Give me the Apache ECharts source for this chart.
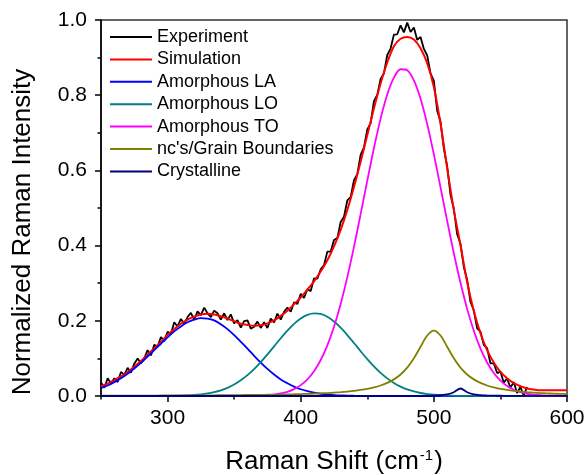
<!DOCTYPE html>
<html>
<head>
<meta charset="utf-8">
<script src="https://cdn.jsdelivr.net/npm/echarts@6/dist/echarts.min.js"></script>
<style>html,body{margin:0;padding:0;background:#fff}#c{width:587px;height:475px}</style>
</head>
<body>
<div id="c"></div>
<script>
const seriesNames = ['Experiment','Simulation','Amorphous LA','Amorphous LO','Amorphous TO',"nc's/Grain Boundaries",'Crystalline'];
const xMajorTicks = [300,400,500,600];
const xMinorTicks = [250,350,450,550];

const ramanShift = [250,255,260,265,270,275,280,285,290,295,300,305,310,315,320,325,330,335,340,345,350,355,360,365,370,375,380,385,390,395,400,405,410,415,420,425,430,435,440,445,450,455,460,465,470,475,480,485,490,495,500,505,510,515,520,525,530,535,540,545,550,555,560,565,570,575,580,585,590,595,600];

const simulation = [0.026,0.033,0.042,0.052,0.064,0.078,0.093,0.110,0.127,0.144,0.162,0.178,0.192,0.203,0.211,0.217,0.219,0.217,0.212,0.206,0.199,0.192,0.189,0.187,0.188,0.193,0.201,0.213,0.227,0.244,0.262,0.283,0.305,0.331,0.361,0.398,0.442,0.495,0.556,0.623,0.694,0.765,0.831,0.887,0.930,0.950,0.955,0.948,0.925,0.885,0.822,0.724,0.606,0.495,0.401,0.303,0.226,0.167,0.122,0.089,0.064,0.047,0.034,0.026,0.020,0.017,0.015,0.015,0.015,0.015,0.015];

const amorphousLA = [0.021,0.028,0.037,0.047,0.059,0.073,0.088,0.105,0.122,0.139,0.156,0.172,0.185,0.196,0.203,0.207,0.206,0.201,0.191,0.178,0.162,0.144,0.126,0.107,0.089,0.072,0.057,0.044,0.034,0.025,0.018,0.013,0.009,0.006,0.004,0.0025,0.0016,0.001,0.0006,0.0003,0,0,0,0,0,0,0,0,0,0,0,0,0,0,0,0,0,0,0,0,0,0,0,0,0,0,0,0,0,0,0];

const amorphousLO = [0,0,0,0,0,0,0,0.0001,0.0001,0.0002,0.0003,0.0006,0.001,0.0017,0.0027,0.0043,0.0068,0.0104,0.0152,0.0218,0.0306,0.0417,0.0554,0.0716,0.0902,0.1106,0.1321,0.1537,0.1741,0.192,0.2063,0.2158,0.2199,0.2181,0.2107,0.1982,0.1817,0.162,0.1409,0.1191,0.0982,0.0788,0.0615,0.0468,0.0347,0.025,0.0176,0.012,0.008,0.0052,0.0033,0.002,0.0012,0.0007,0.0004,0.0002,0.0001,0,0,0,0,0,0,0,0,0,0,0,0,0,0];

const amorphousTO = [0,0,0,0,0,0,0,0,0,0,0,0,0,0,0,0,0,0,0,0,0,0,0.0003,0.0006,0.0012,0.0022,0.0039,0.0067,0.0112,0.0183,0.0289,0.0443,0.066,0.0957,0.1346,0.1841,0.2448,0.3161,0.3966,0.4836,0.5729,0.6595,0.7377,0.8018,0.8466,0.869,0.8665,0.8396,0.7903,0.723,0.6428,0.555,0.4658,0.3798,0.301,0.2317,0.1734,0.126,0.089,0.061,0.0407,0.0264,0.0166,0.0102,0.006,0.0035,0.002,0.0011,0.0006,0.0003,0.0002];

const grainBoundaries = [0.0009,0.0009,0.0009,0.001,0.001,0.001,0.0011,0.0012,0.0012,0.0013,0.0013,0.0014,0.0015,0.0016,0.0016,0.0017,0.0018,0.0019,0.002,0.0022,0.0023,0.0025,0.0027,0.0029,0.0031,0.0034,0.0036,0.0039,0.0043,0.0047,0.0052,0.0057,0.0063,0.007,0.0079,0.009,0.0102,0.0117,0.0136,0.016,0.019,0.0228,0.0279,0.0348,0.0442,0.0572,0.0754,0.1003,0.1311,0.1609,0.174,0.1609,0.1311,0.1003,0.0754,0.0572,0.0442,0.0348,0.0279,0.0228,0.019,0.016,0.0136,0.0117,0.0102,0.009,0.0079,0.007,0.0063,0.0057,0.0052];

const crystalline = [0,0,0,0,0,0,0,0,0,0,0,0,0,0,0,0,0,0,0,0,0,0,0,0,0,0,0,0,0,0,0,0,0,0,0,0,0,0,0,0,0,0,0,0,0,0,0,0,0,0,0.0012,0.002,0.004,0.01,0.02,0.01,0.004,0.002,0.0012,0.0008,0.0006,0.0004,0.0003,0.0003,0.0002,0.0002,0.0002,0.0002,0.0002,0.0002,0.0002];

const expShift = [250,252.5,255,257.5,260,262.5,265,267.5,270,272.5,275,277.5,280,282.5,285,287.5,290,292.5,295,297.5,300,302.5,305,307.5,310,312.5,315,317.5,320,322.5,325,327.5,330,332.5,335,337.5,340,342.5,345,347.5,350,352.5,355,357.5,360,362.5,365,367.5,370,372.5,375,377.5,380,382.5,385,387.5,390,392.5,395,397.5,400,402.5,405,407.5,410,412.5,415,417.5,420,422.5,425,427.5,430,432.5,435,437.5,440,442.5,445,447.5,450,452.5,455,457.5,460,462.5,465,467.5,470,472.5,475,477.5,480,482.5,485,487.5,490,492.5,495,497.5,500,502.5,505,507.5,510,512.5,515,517.5,520,522.5,525,527.5,530,532.5,535,537.5,540,542.5,545,547.5,550,552.5,555,557.5,560,562.5,565,567.5,570];

const expIntensity = [
0.036,0.022,0.047,0.033,0.047,0.037,0.064,0.056,0.075,0.062,
0.086,0.100,0.087,0.100,0.122,0.108,0.136,0.131,0.157,0.146,
0.171,0.165,0.196,0.185,0.205,0.192,0.210,0.221,0.203,0.225,
0.215,0.235,0.220,0.210,0.227,0.220,0.203,0.220,0.202,0.217,
0.193,0.202,0.182,0.199,0.201,0.179,0.184,0.198,0.181,0.196,
0.181,0.206,0.196,0.219,0.203,0.224,0.235,0.224,0.249,0.245,
0.272,0.261,0.284,0.279,0.313,0.312,0.337,0.348,0.384,0.384,
0.415,0.420,0.463,0.477,0.520,0.529,0.574,0.590,0.641,0.661,
0.709,0.725,0.784,0.801,0.843,0.858,0.907,0.924,0.961,0.962,
0.986,0.967,0.993,0.968,0.980,0.947,0.955,0.923,0.906,0.858,
0.838,0.759,0.730,0.658,0.611,0.535,0.498,0.430,0.405,0.343,
0.309,0.250,0.228,0.180,0.171,0.136,0.127,0.087,0.087,0.061,
0.065,0.035,0.047,0.022,0.037,0.008,0.024,0.001,0.024];

const colors = ['#000000','#ff0000','#0000ff','#008080','#ff00ff','#808000','#000080'];

function zip(xs, ys){ return xs.map((x,i)=>[x, ys[i]]); }

const font = 'Liberation Sans, Arial, sans-serif';
const chart = echarts.init(document.getElementById('c'), null, {renderer:'canvas'});

const comp = [simulation, amorphousLA, amorphousLO, amorphousTO, grainBoundaries, crystalline];
const series = [{
  name: seriesNames[0], type:'line', data: zip(expShift, expIntensity), symbol:'none',
  lineStyle:{color:colors[0], width:1.8}, itemStyle:{color:colors[0]}, animation:false
}];
comp.forEach((arr, i) => {
  series.push({
    name: seriesNames[i+1], type:'line', data: zip(ramanShift, arr), symbol:'none', smooth:0.3,
    lineStyle:{color:colors[i+1], width: i===0 ? 2 : 1.8}, itemStyle:{color:colors[i+1]}, animation:false
  });
});

chart.setOption({
  animation:false,
  grid:{left:101, right:20, top:20, bottom:79, outerBoundsMode:'none', containLabel:false, show:true, borderColor:'#333', borderWidth:1.5, backgroundColor:'transparent'},
  legend:{
    orient:'vertical', left:105, top:23, itemWidth:42, itemHeight:2, itemGap:4.4, icon:'rect',
    textStyle:{fontSize:18, fontFamily:font, color:'#000'},
    data: seriesNames
  },
  xAxis:[{
    type:'value', min:250, max:600, position:'bottom',
    axisLine:{show:true, onZero:false, lineStyle:{color:'#000', width:1.5}},
    axisTick:{show:true, customValues:xMajorTicks, length:6, lineStyle:{color:'#000', width:1.5}},
    axisLabel:{customValues:xMajorTicks, fontSize:21, fontFamily:font, color:'#000', margin:12},
    splitLine:{show:false},
    name:'Raman Shift (cm{sup|-1})', nameLocation:'middle', nameGap:52,
    nameTextStyle:{fontSize:26, fontFamily:font, color:'#000',
      rich:{sup:{fontSize:15, fontFamily:font, color:'#000', verticalAlign:'top', padding:[0,1,12,1]}}}
  },{
    type:'value', min:250, max:600, position:'bottom',
    axisLine:{show:false, onZero:false},
    axisTick:{show:true, customValues:xMinorTicks, length:3.5, lineStyle:{color:'#000', width:1.5}},
    axisLabel:{show:false}, splitLine:{show:false}
  }],
  yAxis:{
    type:'value', min:0, max:1, interval:0.2,
    axisLine:{show:true, onZero:false, lineStyle:{color:'#000', width:1.5}},
    axisTick:{show:true, length:6, lineStyle:{color:'#000', width:1.5}},
    minorTick:{show:true, splitNumber:2, length:3.5, lineStyle:{color:'#000', width:1.5}},
    axisLabel:{fontSize:21, fontFamily:font, color:'#000', margin:14, formatter:v=>v.toFixed(1)},
    splitLine:{show:false}, minorSplitLine:{show:false}
  },
  graphic:[{
    type:'text', x:23, y:232, rotation:Math.PI/2,
    style:{text:'Normalized Raman Intensity', fontSize:26, fontFamily:font, fill:'#000', textAlign:'center', textVerticalAlign:'middle'}
  }],
  series: series
});
</script>
</body>
</html>
